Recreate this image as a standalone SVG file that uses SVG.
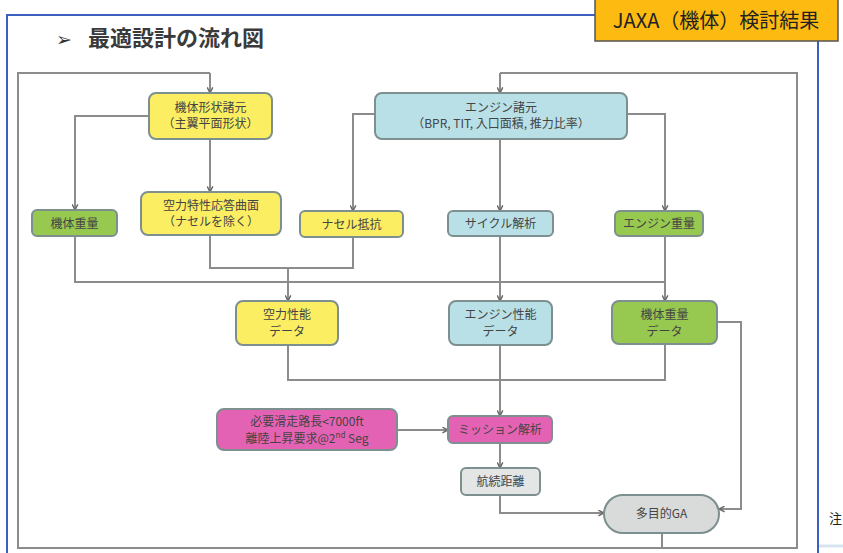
<svg xmlns="http://www.w3.org/2000/svg" width="843" height="553" viewBox="0 0 843 553">
<defs>
<marker id="ah" viewBox="0 0 10 10" refX="9" refY="5" markerWidth="7" markerHeight="7" orient="auto" markerUnits="userSpaceOnUse">
<path d="M1,1 L9,5 L1,9" fill="none" stroke="#666" stroke-width="2"/>
</marker>
<style>
.n{stroke:#7d8f8f;stroke-width:2}
.y{fill:#FCEE63}
.b{fill:#B9E0E6}
.g{fill:#97C850}
.p{fill:#E462B4}
.gr{fill:#E4E6E6}
.t{font-family:"Noto Sans CJK JP","Noto Sans",sans-serif;font-size:12px;text-anchor:middle;fill:#444}
.c{fill:none;stroke:#8c8c8c;stroke-width:2}
.ca{fill:none;stroke:#8c8c8c;stroke-width:2;marker-end:url(#ah)}
</style>
</defs>
<rect width="843" height="553" fill="#fff"/>
<!-- slide frame -->
<path d="M7,553 L7,15 L596,15" fill="none" stroke="#3F5FC0" stroke-width="2"/>
<line x1="818" y1="41" x2="818" y2="553" stroke="#3F5FC0" stroke-width="2"/>
<line x1="819" y1="546" x2="843" y2="546" stroke="#D7E4F0" stroke-width="3"/>
<g id="jaxa">
<rect x="595" y="-1" width="243" height="42" fill="#FDBB12" stroke="#555" stroke-width="1.5"/>
<text x="716" y="28" font-family="Noto Sans CJK JP, sans-serif" font-size="20" text-anchor="middle" fill="#222">JAXA（機体）検討結果</text>
</g>
<g id="title">
<text x="56" y="46" font-family="DejaVu Sans, sans-serif" font-size="19" font-weight="bold" fill="#333">➢</text>
<text x="88" y="46" font-family="Noto Sans CJK JP, sans-serif" font-size="22" font-weight="bold" fill="#3a3a3a">最適設計の流れ図</text>
</g>
<text x="829" y="523" font-family="Noto Sans CJK JP, sans-serif" font-size="13" fill="#222">注</text>

<g id="connectors">
<!-- feedback loop -->
<path class="c" d="M662,533 L662,548 L18,548 L18,73 L210,73"/>
<path class="ca" d="M210,73 L210,93"/>
<path class="c" d="M662,548 L797,548 L797,73 L500,73"/>
<path class="ca" d="M500,73 L500,93"/>
<!-- 機体形状諸元 -->
<path class="ca" d="M149,116 L75,116 L75,210"/>
<path class="ca" d="M210,139 L210,192"/>
<!-- エンジン諸元 -->
<path class="ca" d="M375,114 L353,114 L353,211"/>
<path class="ca" d="M500,139 L500,211"/>
<path class="ca" d="M627,114 L665,114 L665,211"/>
<!-- to row 3 -->
<path class="c" d="M210,235 L210,268 L353,268 L353,237"/>
<path class="ca" d="M288,268 L288,301"/>
<path class="c" d="M75,236 L75,282 L665,282"/>
<path class="c" d="M665,236 L665,282"/>
<path class="ca" d="M665,282 L665,301"/>
<path class="ca" d="M500,236 L500,301"/>
<!-- to mission -->
<path class="c" d="M288,345 L288,380 L665,380 L665,344"/>
<path class="ca" d="M500,345 L500,416"/>
<path class="ca" d="M397,430 L448,430"/>
<path class="ca" d="M500,443 L500,468"/>
<path class="ca" d="M500,495 L500,513 L604,513"/>
<path class="ca" d="M717,322 L741,322 L741,509 L719,509"/>
</g>

<g id="kitai-keijo"><rect class="n y" x="149" y="93" width="123" height="46" rx="7"/>
<text class="t" x="210.5" y="112">機体形状諸元</text><text class="t" x="210.5" y="128">（主翼平面形状）</text></g>
<g id="kuriki-tokusei"><rect class="n y" x="141" y="192" width="140" height="43" rx="7"/>
<text class="t" x="211" y="210">空力特性応答曲面</text><text class="t" x="211" y="226">（ナセルを除く）</text></g>
<g id="nacelle"><rect class="n y" x="300" y="211" width="103" height="26" rx="5"/>
<text class="t" x="351.5" y="229">ナセル抵抗</text></g>
<g id="engine-shogen"><rect class="n b" x="375" y="93" width="252" height="46" rx="7"/>
<text class="t" x="501" y="112">エンジン諸元</text><text class="t" x="501" y="128">（BPR, TIT, 入口面積, 推力比率）</text></g>
<g id="cycle"><rect class="n b" x="448" y="211" width="105" height="25" rx="5"/>
<text class="t" x="500.5" y="228">サイクル解析</text></g>
<g id="engine-juryo"><rect class="n g" x="615" y="211" width="88" height="25" rx="5"/>
<text class="t" x="659" y="228">エンジン重量</text></g>
<g id="kitai-juryo"><rect class="n g" x="32" y="210" width="85" height="26" rx="5"/>
<text class="t" x="74.5" y="228">機体重量</text></g>
<g id="kuriki-data"><rect class="n y" x="236" y="301" width="102" height="44" rx="7"/>
<text class="t" x="287" y="319">空力性能</text><text class="t" x="287" y="336">データ</text></g>
<g id="engine-data"><rect class="n b" x="449" y="301" width="103" height="44" rx="7"/>
<text class="t" x="500.5" y="319">エンジン性能</text><text class="t" x="500.5" y="336">データ</text></g>
<g id="kitai-data"><rect class="n g" x="612" y="301" width="105" height="43" rx="7"/>
<text class="t" x="664.5" y="319">機体重量</text><text class="t" x="664.5" y="336">データ</text></g>
<g id="youkyu"><rect class="n p" x="217" y="409" width="180" height="41" rx="7"/>
<text class="t" x="307" y="426" fill="#3a2a3a">必要滑走路長&lt;7000ft</text>
<text class="t" x="307" y="443" fill="#3a2a3a">離陸上昇要求@2<tspan font-size="8" dy="-5">nd</tspan><tspan dy="5"> Seg</tspan></text></g>
<g id="mission"><rect class="n p" x="448" y="416" width="104" height="27" rx="5"/>
<text class="t" x="500" y="434" fill="#3a2a3a">ミッション解析</text></g>
<g id="koku-kyori"><rect class="n gr" x="461" y="468" width="79" height="27" rx="5"/>
<text class="t" x="500.5" y="486">航続距離</text></g>
<g id="ga"><rect class="n" x="604" y="495" width="115" height="38" rx="19" fill="#D9DBDB"/>
<text class="t" x="661.5" y="518">多目的GA</text></g>
</svg>
